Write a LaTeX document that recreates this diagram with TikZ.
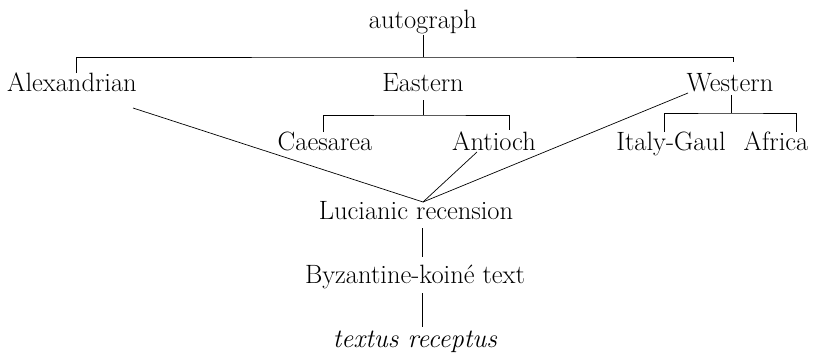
\documentclass[tikz,border=0pt]{standalone}
\usepackage{tikz}

\tikzset{witness/.style={anchor=base, inner sep=0pt, font=\fontsize{26.5}{32}\selectfont}}

\begin{document}
\begin{tikzpicture}[x=1pt,y=-1pt,line width=0.7pt]
          \useasboundingbox (0,0) rectangle (821,353);
          %Zeugen
          \node[witness] (autograph) at (423,29) {autograph};
          \node[witness] (alexandrian) at (72,91) {Alexandrian};
          \node[witness] (eastern) at (423,91) {Eastern};
          \node[witness] (western) at (730,91) {Western};
          \node[witness] (caesarea) at (325,150) {Caesarea};
          \node[witness] (antioch) at (494,150) {Antioch};
          \node[witness] (italygaul) at (671,150) {Italy-Gaul};
          \node[witness] (africa) at (776,150) {Africa};
          \node[witness] (lucianic) at (416,219) {Lucianic recension};
          \node[witness] (byzantine) at (415,283) {Byzantine-koin\'e text};
          \node[witness] (receptus) at (415,347) {\textit{textus receptus}};
          
          %Klammern
          \coordinate (autobar) at (423,57);
          \draw ([yshift=-6pt]autograph.base) -- (autobar);
          \draw ([xshift=4pt,yshift=18pt]alexandrian.base) |- (autobar) -| ([xshift=3pt,yshift=29pt]western.base);
          
          \coordinate (eastbar) at (423,115);
          \draw ([yshift=-9pt]eastern.base) -- (eastbar);
          \draw ([xshift=-2pt,yshift=18pt]caesarea.base) |- (eastbar) -| ([xshift=15pt,yshift=20pt]antioch.base);
          
          \coordinate (westbar) at (731,113);
          \draw ([xshift=1pt,yshift=-4pt]western.base) -- (westbar);
          \draw ([xshift=-7pt,yshift=18pt]italygaul.base) |- (westbar) -| ([xshift=20pt,yshift=18pt]africa.base);
          
          %Rezension
          \coordinate (join) at (423,202);
          \draw ([xshift=61pt,yshift=-17pt]alexandrian.base) -- (join);
          \draw ([xshift=-17pt,yshift=-2pt]antioch.base) -- (join);
          \draw ([xshift=-42pt,yshift=-2pt]western.base) -- (join);
          
          \draw ([xshift=6pt,yshift=-9pt]lucianic.base) -- ([xshift=7pt,yshift=26pt]byzantine.base);
          \draw ([xshift=7pt,yshift=-10pt]byzantine.base) -- ([xshift=7pt,yshift=20pt]receptus.base);
        \end{tikzpicture}
\end{document}
